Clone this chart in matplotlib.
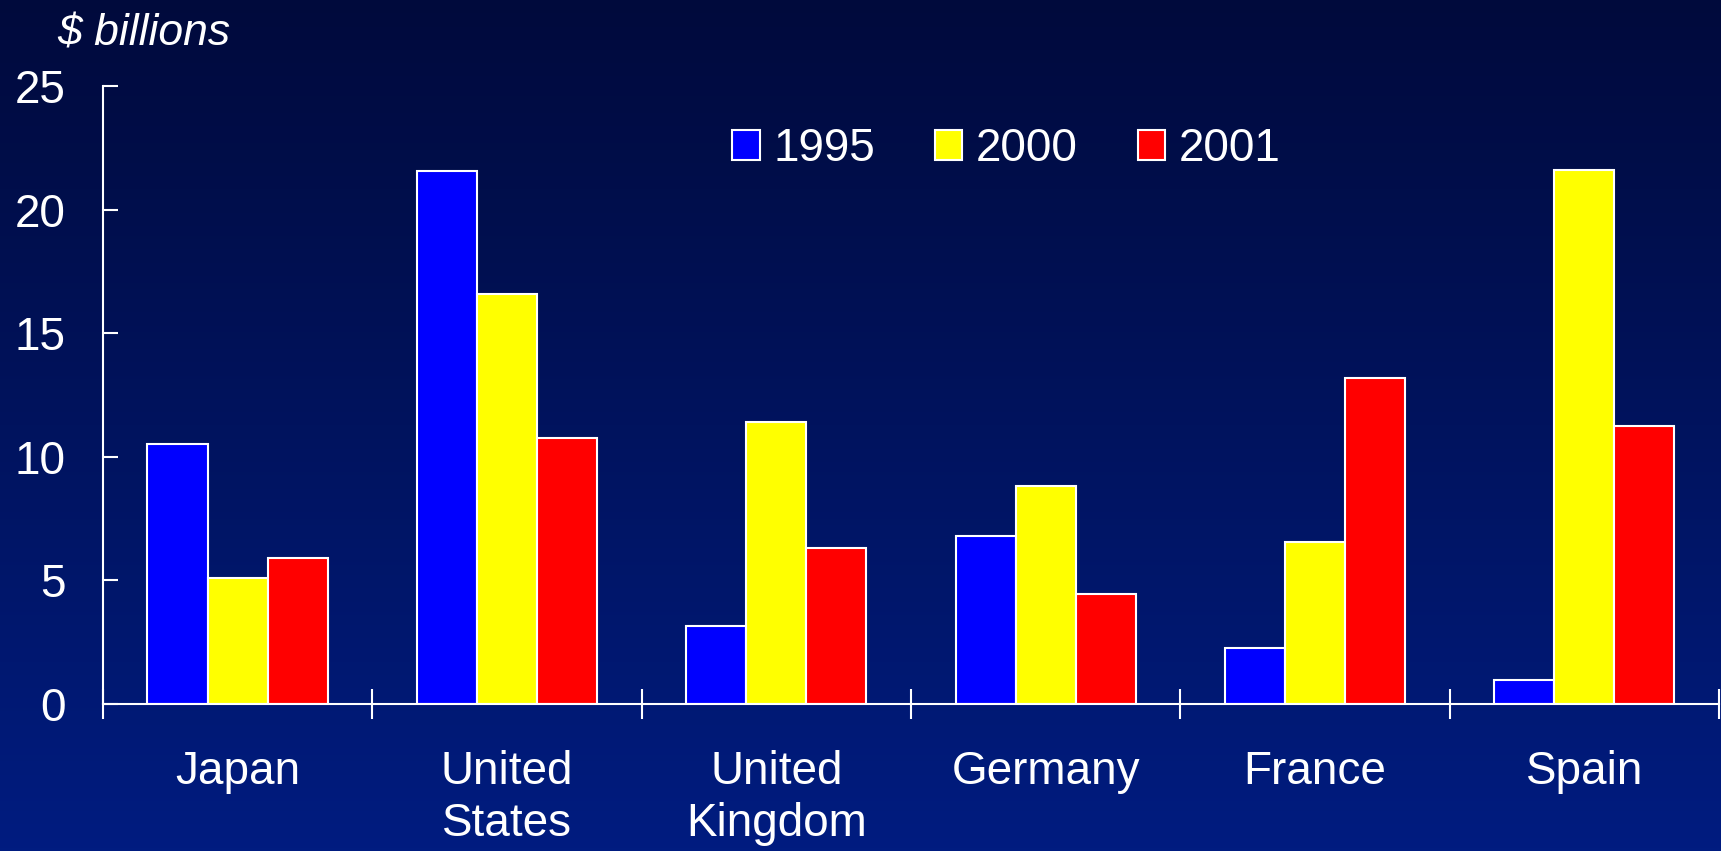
import numpy as np
import matplotlib
matplotlib.use('Agg')
import matplotlib.pyplot as plt
from matplotlib.patches import Patch

# Configuracao de fonte
plt.rcParams['font.family'] = ['Liberation Sans', 'DejaVu Sans']
Txt_color = 'white'

countries = ['Japan', 'United\nStates', 'United\nKingdom', 'Germany', 'France', 'Spain']
years = ['1995', '2000', '2001']
vals_1995 = [10.5, 21.55, 3.15, 6.8, 2.25, 0.98]
vals_2000 = [5.1, 16.6, 11.42, 8.82, 6.57, 21.62]
vals_2001 = [5.9, 10.77, 6.3, 4.45, 13.2, 11.25]
bar_colors = ['#0000ff', '#ffff00', '#ff0000']

fig = plt.figure(figsize=(17.21, 8.51), dpi=100)

# fundo em gradiente
bg = fig.add_axes([0, 0, 1, 1])
grad = np.linspace(0, 1, 256).reshape(-1, 1)
top = np.array([0, 10, 60]) / 255
bot = np.array([0, 28, 128]) / 255
img = top + (bot - top) * grad[:, :, None]
bg.imshow(img, aspect='auto', extent=[0, 1, 0, 1])
bg.set_axis_off()

ax = fig.add_axes([0.0598, 0.1727, 0.939, 0.7263])
ax.set_facecolor('none')

x = np.arange(len(countries))
w = 0.223
for i, (vals, c, lab) in enumerate(zip([vals_1995, vals_2000, vals_2001], bar_colors, years)):
    ax.bar(x + (i - 1) * w, vals, width=w, color=c, edgecolor='white', linewidth=1.5, label=lab)

ax.set_xlim(-0.5, len(countries) - 0.5)
ax.set_ylim(0, 25)
ax.set_yticks([0, 5, 10, 15, 20, 25])

for s in ['top', 'right']:
    ax.spines[s].set_visible(False)
for s in ['left', 'bottom']:
    ax.spines[s].set_color('white')
    ax.spines[s].set_linewidth(1.5)

ax.tick_params(axis='y', direction='in', length=11, width=1.5, color='white',
               labelcolor=Txt_color, labelsize=33, pad=27)
ax.set_xticks(x)
ax.set_xticklabels(countries)
ax.set_xticks(np.arange(-0.5, len(countries)), minor=True)
ax.tick_params(axis='x', which='major', length=0, labelcolor=Txt_color, labelsize=33, pad=33)
ax.tick_params(axis='x', which='minor', direction='inout', length=21, width=1.5, color='white')
for t in ax.get_xticklabels():
    t.set_linespacing(1.25)

handles = [Patch(facecolor=c, edgecolor='white', linewidth=1.5) for c in bar_colors]
leg = ax.legend(handles, years, loc='upper left', bbox_to_anchor=(0.364, 1.0), ncol=3,
                frameon=False, fontsize=33, labelcolor=Txt_color,
                handlelength=0.6, handleheight=0.6, handletextpad=0.3, columnspacing=1.3)

fig.text(0.033, 0.96, '$ billions', color=Txt_color, fontsize=32, style='italic',
         ha='left', va='center')

fig.savefig('out.png', dpi=100)
